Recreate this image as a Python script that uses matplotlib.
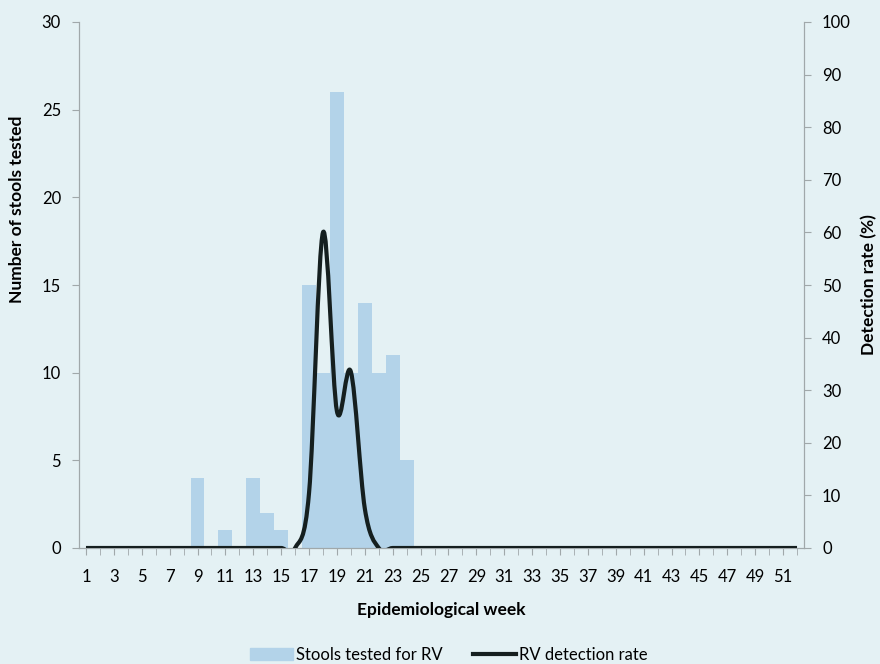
import numpy as np
import matplotlib
matplotlib.use('Agg')
import matplotlib.pyplot as plt
from matplotlib.path import Path
from matplotlib.patches import PathPatch, Patch
from matplotlib.lines import Line2D

plt.rcParams['font.family'] = ['Lato', 'DejaVu Sans']

weeks = np.arange(1, 53)
# stools tested per week (non-zero weeks)
stools = {9: 4, 11: 1, 13: 4, 14: 2, 15: 1, 17: 15, 18: 10, 19: 26,
          20: 10, 21: 14, 22: 10, 23: 11, 24: 5}
# RV detection rate (%) per week (non-zero weeks)
rate = {17: 10.5, 18: 60, 19: 26, 20: 33.5, 21: 7.5}

stool_vals = np.array([stools.get(w, 0) for w in weeks])
rate_vals = np.array([rate.get(w, 0) for w in weeks], dtype=float)

bg = '#e4f1f4'
bar_col = '#b3d3e9'
line_col = '#151f1f'
axis_col = '#a0a8aa'
tick_fs = 12
lab_fs = 12.5

fig = plt.figure(figsize=(8.8, 6.64), dpi=100, facecolor=bg)
ax = fig.add_axes([79 / 880, 1 - 548 / 664, (804 - 79) / 880, (548 - 22) / 664])
ax.set_facecolor(bg)
ax.bar(weeks, stool_vals, width=1.0, color=bar_col, zorder=1)
ax.set_xlim(0.5, 52.5)
ax.set_ylim(0, 30)
ax.set_yticks(range(0, 31, 5))
ax.set_xticks(range(1, 53, 2))
ax.set_xticks(range(1, 53), minor=True)
ax.tick_params(axis='x', which='both', length=5, color=axis_col, labelsize=tick_fs, pad=10)
ax.tick_params(axis='y', length=5, color=axis_col, labelsize=tick_fs, pad=8)
ax.set_ylabel('Number of stools tested', fontsize=lab_fs, fontweight='bold')
ax.yaxis.set_label_coords(-0.0745, 0.643)
ax.set_xlabel('Epidemiological week', fontsize=lab_fs, fontweight='bold', labelpad=12)
ax.spines['top'].set_visible(False)
for s in ['left', 'bottom', 'right']:
    ax.spines[s].set_color(axis_col)

ax2 = ax.twinx()
ax2.set_ylim(0, 100)
ax2.set_yticks(range(0, 101, 10))
ax2.tick_params(axis='y', length=5, color=axis_col, labelsize=tick_fs, pad=8)
ax2.set_ylabel('Detection rate (%)', fontsize=lab_fs, fontweight='bold')
ax2.yaxis.set_label_coords(1.079, 0.5)
ax2.spines['top'].set_visible(False)
for s in ['left', 'bottom', 'right']:
    ax2.spines[s].set_color(axis_col)

# smoothed line (Bezier through the weekly points, like a spreadsheet "smooth line")
x = weeks.astype(float)
y = rate_vals
verts = [(x[0], y[0])]
codes = [Path.MOVETO]
n = len(x)
for i in range(n - 1):
    p0 = np.array([x[max(i - 1, 0)], y[max(i - 1, 0)]])
    p1 = np.array([x[i], y[i]])
    p2 = np.array([x[i + 1], y[i + 1]])
    p3 = np.array([x[min(i + 2, n - 1)], y[min(i + 2, n - 1)]])
    c1 = p1 + (p2 - p0) / 6
    c2 = p2 - (p3 - p1) / 6
    verts += [tuple(c1), tuple(c2), tuple(p2)]
    codes += [Path.CURVE4] * 3
ax2.add_patch(PathPatch(Path(verts, codes), facecolor='none', edgecolor=line_col,
                        lw=3, capstyle='butt', joinstyle='round', zorder=3))

handles = [Patch(color=bar_col), Line2D([], [], color=line_col, lw=3)]
fig.legend(handles, ['Stools tested for RV', 'RV detection rate'], loc='center',
           bbox_to_anchor=(0.51, 0.014), ncol=2, frameon=False, fontsize=tick_fs,
           handlelength=2.6, handletextpad=0.2, columnspacing=1.8)

fig.savefig('out.png', dpi=100, facecolor=bg)
